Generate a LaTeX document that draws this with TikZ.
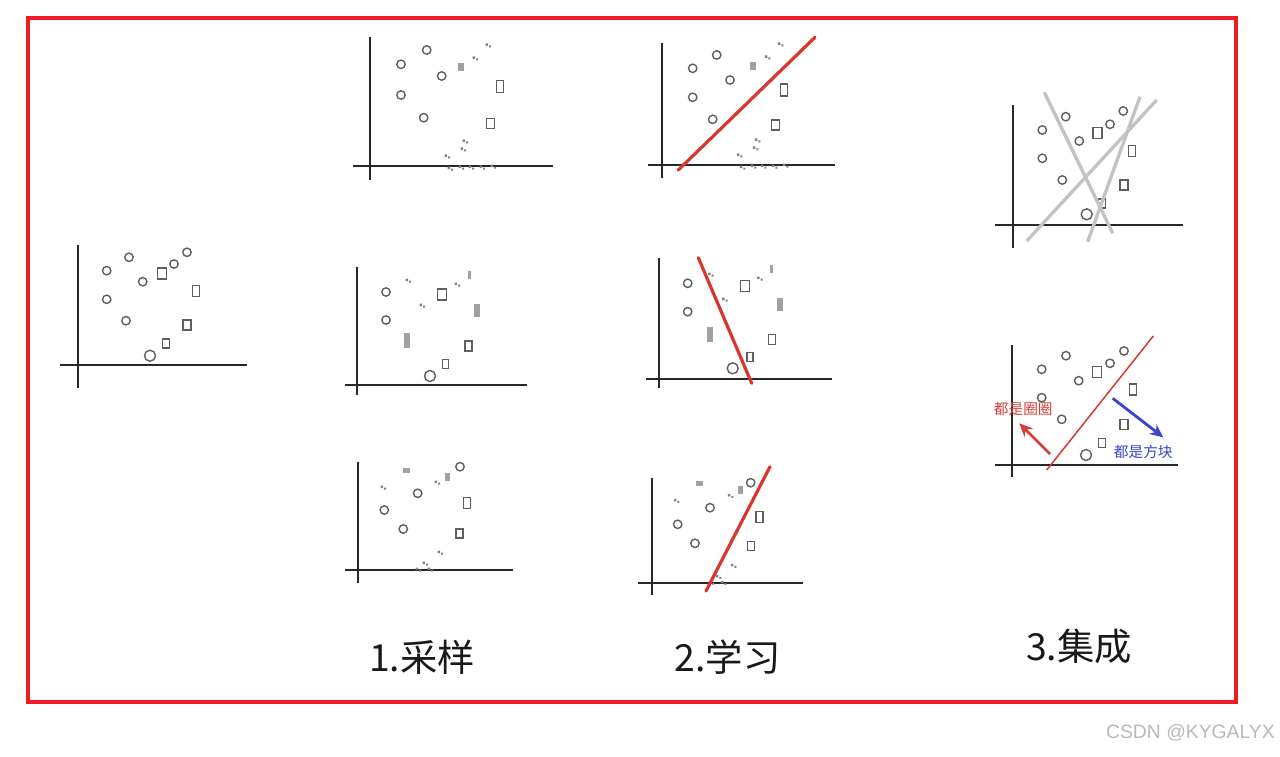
\documentclass[tikz,border=0pt]{standalone}
\usepackage{fontspec}
\newfontfamily\cjk{Noto Sans CJK SC}
\newfontfamily\lsans{Liberation Sans}
\usetikzlibrary{arrows.meta}
\definecolor{axc}{RGB}{40,40,40}
\definecolor{ptcol}{RGB}{95,95,95}
\definecolor{spkcol}{RGB}{130,130,130}
\definecolor{redl}{RGB}{215,55,45}
\definecolor{grayl}{RGB}{195,195,195}
\definecolor{frame}{RGB}{236,28,36}
\definecolor{arrred}{RGB}{210,65,55}
\definecolor{arrblue}{RGB}{55,70,205}
\definecolor{wmark}{RGB}{185,185,185}
\definecolor{captc}{RGB}{25,25,25}
\tikzset{
  axis/.style={line width=1.7pt, color=axc},
  ptc/.style={line width=1.05pt, color=ptcol},
  spkc/.style={fill=spkcol},
  blobc/.style={fill=spkcol, opacity=0.75},
  redln/.style={line width=2.4pt, color=redl, line cap=round},
  grayln/.style={line width=2.5pt, color=grayl},
  biglab/.style={font=\cjk\fontsize{28}{30}\selectfont, text=captc, inner sep=0pt},
  smalllab/.style={font=\cjk\fontsize{11}{12}\selectfont, inner sep=0pt}
}
\newcommand\pc[2]{\draw[ptc] (#1,#2) circle[radius=4.2];}
\newcommand\pC[2]{\draw[ptc] (#1,#2) circle[radius=5.5];}
\newcommand\ps[4]{\draw[ptc] ({#1-#3/2},{#2-#4/2}) rectangle ({#1+#3/2},{#2+#4/2});}
\newcommand\spk[2]{\fill[spkc] ({#1-2.5},{#2-1.5}) rectangle ++(2.5,2.5) ({#1+1},{#2+0.5}) rectangle ++(2,2);}
\newcommand\blob[4]{\fill[blobc] ({#1-#3/2},{#2-#4/2}) rectangle ({#1+#3/2},{#2+#4/2});}
\newcommand\specksA{%
  \blob{461}{67}{6}{8}
  \spk{475}{58}
  \spk{488}{45}
  \spk{465}{141}
  \spk{463}{149}
  \spk{447}{156}
  \spk{450}{168}\spk{461}{167}\spk{471}{167}\spk{482}{167}\spk{493}{166}
}
\newcommand\specksB{%
  \spk{408}{280}
  \spk{422}{305}
  \spk{457}{284}
  \blob{469}{275}{3}{8}
  \blob{477}{310}{6}{13}
  \blob{407}{340}{6}{15}
}
\newcommand\specksC{%
  \spk{383}{487}
  \blob{406}{470}{7}{5}
  \spk{437}{482}\blob{447}{477}{5}{8}
  \spk{440}{552}
  \spk{425}{563}\spk{418}{569}\spk{430}{569}
}
\begin{document}
\begin{tikzpicture}[x=0.75pt,y=-0.75pt]
\useasboundingbox (0,0) rectangle (1280,756);
\fill[white] (0,0) rectangle (1280,756);
% frame
\draw[frame, line width=3.6pt] (28,18) rectangle (1236,702);

% ---------- base panel ----------
\draw[axis] (77.7,245) -- (77.7,388);
\draw[axis] (60,365) -- (246.7,365);
\pc{106.7}{270.7}\pc{129}{257.3}\pc{142.7}{281.7}\pc{106.7}{299.3}\pc{126}{320.7}\pc{174}{264}\pc{187}{252.3}
\pC{150}{355.7}
\ps{162}{273.3}{9}{11}\ps{195.7}{291}{7}{11}\ps{187}{325}{8}{10}\ps{165.7}{343.3}{7}{9}

% ---------- panel 1a ----------
\draw[axis] (370,36.7) -- (370,180);
\draw[axis] (353,166) -- (553,166);
\pc{401}{64.3}\pc{426.7}{50}\pc{441.7}{76}\pc{401}{95}\pc{423.7}{117.7}
\ps{500}{86.7}{7}{12}\ps{490.7}{123.3}{8}{10}
\specksA

% ---------- panel 1b ----------
\draw[axis] (356.7,266.7) -- (356.7,395);
\draw[axis] (345,385) -- (526.7,385);
\pc{386}{292}\pc{386}{320}\pC{430}{376}
\ps{442}{294.3}{9}{11}\ps{468.3}{346}{7}{10}\ps{445.7}{364}{6}{9}
\specksB

% ---------- panel 1c ----------
\draw[axis] (358.3,461.7) -- (358.3,583);
\draw[axis] (345,570) -- (513,570);
\pc{460}{466.7}\pc{417.7}{493.3}\pc{384.3}{510}\pc{403.3}{529}
\ps{466.7}{502.7}{7}{11}\ps{459.3}{533.3}{7}{9}
\specksC

% ---------- panel 2a ----------
\draw[axis] (662.3,43.3) -- (662.3,178);
\draw[axis] (648,165) -- (835,165);
\pc{692.7}{68.3}\pc{716.7}{55}\pc{730}{80}\pc{692.7}{97.3}\pc{712.7}{119.3}
\ps{784}{90}{7}{12}\ps{775.7}{125}{8}{10}
\begin{scope}[shift={(292.3,-1)}]\specksA\end{scope}
\draw[redln] (678.3,170) -- (815,37.3);

% ---------- panel 2b ----------
\draw[axis] (659.3,258.3) -- (659.3,388);
\draw[axis] (646,379) -- (831.7,379);
\pc{687.7}{283.3}\pc{687.7}{311.7}\pC{732.7}{368.3}
\ps{745}{286}{9}{11}\ps{771.7}{339.3}{7}{10}\ps{750}{356.7}{6}{9}
\begin{scope}[shift={(302.6,-6)}]\specksB\end{scope}
\draw[redln] (698.3,257.7) -- (751.7,383.3);

% ---------- panel 2c ----------
\draw[axis] (651.7,478.3) -- (651.7,595);
\draw[axis] (638.3,583.3) -- (803.3,583.3);
\pc{750.7}{482.7}\pc{710}{507.7}\pc{677.7}{524.3}\pc{695}{543.3}
\ps{759.3}{516.7}{7}{11}\ps{751}{546}{7}{9}
\begin{scope}[shift={(293.4,13.3)}]\specksC\end{scope}
\draw[redln] (706,591) -- (770,466.7);

% ---------- panel 3a ----------
\draw[axis] (1012.7,105) -- (1012.7,248.3);
\draw[axis] (995,225) -- (1183.3,225);
\pc{1042.3}{130}\pc{1065.7}{116.7}\pc{1079.3}{141}\pc{1042.3}{158.3}\pc{1062.3}{180}\pc{1110}{124.3}\pc{1123.3}{111}
\pC{1086.7}{214.3}
\ps{1097.3}{133.3}{9}{11}\ps{1131.7}{151}{7}{11}\ps{1124}{185}{8}{10}\ps{1101.7}{203.3}{7}{9}
\draw[grayln] (1044.3,92.3) -- (1112.7,233.3);
\draw[grayln] (1026.7,241) -- (1156.7,100);
\draw[grayln] (1087.7,241.7) -- (1140,96.7);

% ---------- panel 3b ----------
\draw[axis] (1012.3,345) -- (1012.3,476.7);
\draw[axis] (995,465) -- (1178.3,465);
\pc{1041.7}{369.3}\pc{1066}{355.7}\pc{1078.7}{380.7}\pc{1041.7}{397.7}\pc{1061.7}{419.3}\pc{1110}{363.3}\pc{1124}{351}
\pC{1086}{455}
\ps{1096.7}{371.7}{9}{11}\ps{1132.7}{389.3}{7}{11}\ps{1124}{424.3}{8}{10}\ps{1101.7}{442.7}{7}{9}
\draw[line width=1.1pt, color=redl] (1046.7,470) -- (1153.3,336);
\coordinate (ra) at (1050,454);
\coordinate (rb) at (1019.3,423.3);
\coordinate (ba) at (1112.7,398.3);
\coordinate (bb) at (1163.3,437.3);
\draw[arrred, line width=2.1pt, -{Stealth[length=10pt,width=9pt]}] (ra) -- (rb);
\draw[arrblue, line width=2.1pt, -{Stealth[length=10pt,width=9pt]}] (ba) -- (bb);
\node[smalllab, text=arrred] (lq) at (1023.3,409.3) {都是圈圈};
\node[smalllab, text=arrblue] (lf) at (1143.3,452.3) {都是方块};

% ---------- captions ----------
\node[biglab] (c1) at (422,657) {1.采样};
\node[biglab] (c2) at (727.5,657) {2.学习};
\node[biglab] (c3) at (1079,646.5) {3.集成};

% watermark
\node[font=\lsans\fontsize{14.5}{16}\selectfont, text=wmark, anchor=east, inner sep=0pt] (wm) at (1275,733) {CSDN @KYGALYX};
\end{tikzpicture}
\end{document}
